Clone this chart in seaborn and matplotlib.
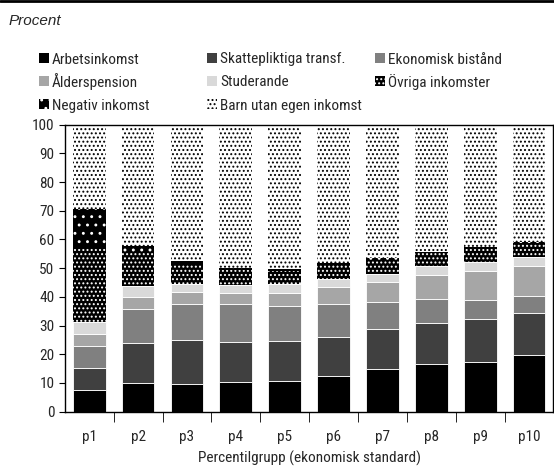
import matplotlib
matplotlib.use("Agg")
import matplotlib.pyplot as plt
import matplotlib.patches as mpatches
from matplotlib import font_manager
import numpy as np
import seaborn as sns

# Percentile groups and income shares (percent of each group)
categories = ["p1", "p2", "p3", "p4", "p5", "p6", "p7", "p8", "p9", "p10"]
arbetsinkomst = [7.6, 9.9, 9.5, 10.2, 10.8, 12.5, 14.8, 16.5, 17.4, 19.6]
skattepliktiga = [7.7, 14.1, 15.5, 14.2, 13.9, 13.6, 13.9, 14.5, 15.0, 14.8]
ekonomiskt_bistand = [7.7, 11.8, 12.6, 13.0, 12.2, 11.5, 9.4, 8.3, 6.4, 5.9]
alderspension = [4.2, 4.0, 4.2, 3.9, 4.5, 5.9, 7.0, 8.4, 10.3, 10.6]
studerande = [3.9, 4.0, 2.7, 2.9, 3.1, 2.8, 2.8, 2.9, 2.9, 3.0]
ovriga = [26.2, 11.8, 6.6, 5.3, 4.6, 4.8, 4.9, 4.6, 4.9, 4.7]
negativ = [13.2, 2.1, 1.5, 0.7, 0.7, 0.6, 0.6, 0.5, 0.6, 0.5]
barn = [29.5, 42.3, 47.4, 49.8, 50.2, 48.3, 46.6, 44.3, 42.5, 40.9]

series_names = ["Arbetsinkomst", "Skattepliktiga transf.", "Ekonomisk bistånd",
                "Ålderspension", "Studerande", "Övriga inkomster",
                "Negativ inkomst", "Barn utan egen inkomst"]
series_values = [arbetsinkomst, skattepliktiga, ekonomiskt_bistand, alderspension,
                 studerande, ovriga, negativ, barn]

# face, hatch colour, hatch
styles = [
    ("#000000", "white", None),
    ("#404040", "white", None),
    ("#808080", "white", None),
    ("#a6a6a6", "white", None),
    ("#d9d9d9", "white", None),
    ("#000000", "white", "...."),
    ("#000000", "white", ".."),
    ("#ffffff", "black", "...."),
]

sns.set_style("ticks")
avail = {f.name for f in font_manager.fontManager.ttflist}
main_font = next((f for f in ["Liberation Sans Narrow", "Roboto Condensed", "Liberation Sans"]
                  if f in avail), "DejaVu Sans")
plt.rcParams["font.family"] = [main_font, "DejaVu Sans"]
plt.rcParams["hatch.linewidth"] = 0.9

W, H = 554, 473
fig = plt.figure(figsize=(W / 100, H / 100), dpi=100)
ax = fig.add_axes([0.117, 0.1296, 0.882, 0.607])

bottom = np.zeros(len(categories))
for name, vals, (face, edge, hatch) in zip(series_names, series_values, styles):
    sns.barplot(x=categories, y=vals, bottom=bottom, color=face, saturation=1,
                width=0.67, errorbar=None, hatch=hatch, edgecolor=edge,
                linewidth=0.6 if hatch is None else 0, ax=ax)
    bottom += np.array(vals)

ax.set_ylim(0, 100)
ax.set_xlim(-0.5, len(categories) - 0.5)
ax.set_yticks(range(0, 101, 10))
for s in ax.spines.values():
    s.set_visible(True)
    s.set_color("black")
    s.set_linewidth(1.0)
ax.tick_params(axis="y", labelsize=11, length=4, direction="out", color="black")
ax.tick_params(axis="x", which="major", length=0, labelsize=11, pad=13)
ax.set_xticks(np.arange(0.5, len(categories) - 0.5), minor=True)
ax.tick_params(axis="x", which="minor", length=7, direction="out", color="black")
ax.set_xlabel("Percentilgrupp (ekonomisk standard)", fontsize=11, labelpad=5)
ax.set_ylabel("")

# legend drawn by hand: 3 columns at fixed x, read row-wise
col_px = [39, 207, 375]
row_px = [58, 81, 104]
for i, (name, (face, edge, hatch)) in enumerate(zip(series_names, styles)):
    r, c = divmod(i, 3)
    x0, yc = col_px[c], row_px[r]
    fig.add_artist(mpatches.Rectangle((x0 / W, 1 - (yc + 5) / H), 10 / W, 10 / H,
                                      transform=fig.transFigure, facecolor=face,
                                      edgecolor=edge, hatch=hatch, linewidth=0))
    fig.text((x0 + 13) / W, 1 - (yc + 5.5) / H, name, fontsize=11, va="baseline")

fig.text(0.015, 0.955, "Procent", fontsize=11, style="italic",
         family=["Liberation Sans", "DejaVu Sans"], va="center")
fig.add_artist(plt.Line2D([0, 1], [0.998, 0.998], color="black", linewidth=2))

fig.savefig("out.png", dpi=100)
